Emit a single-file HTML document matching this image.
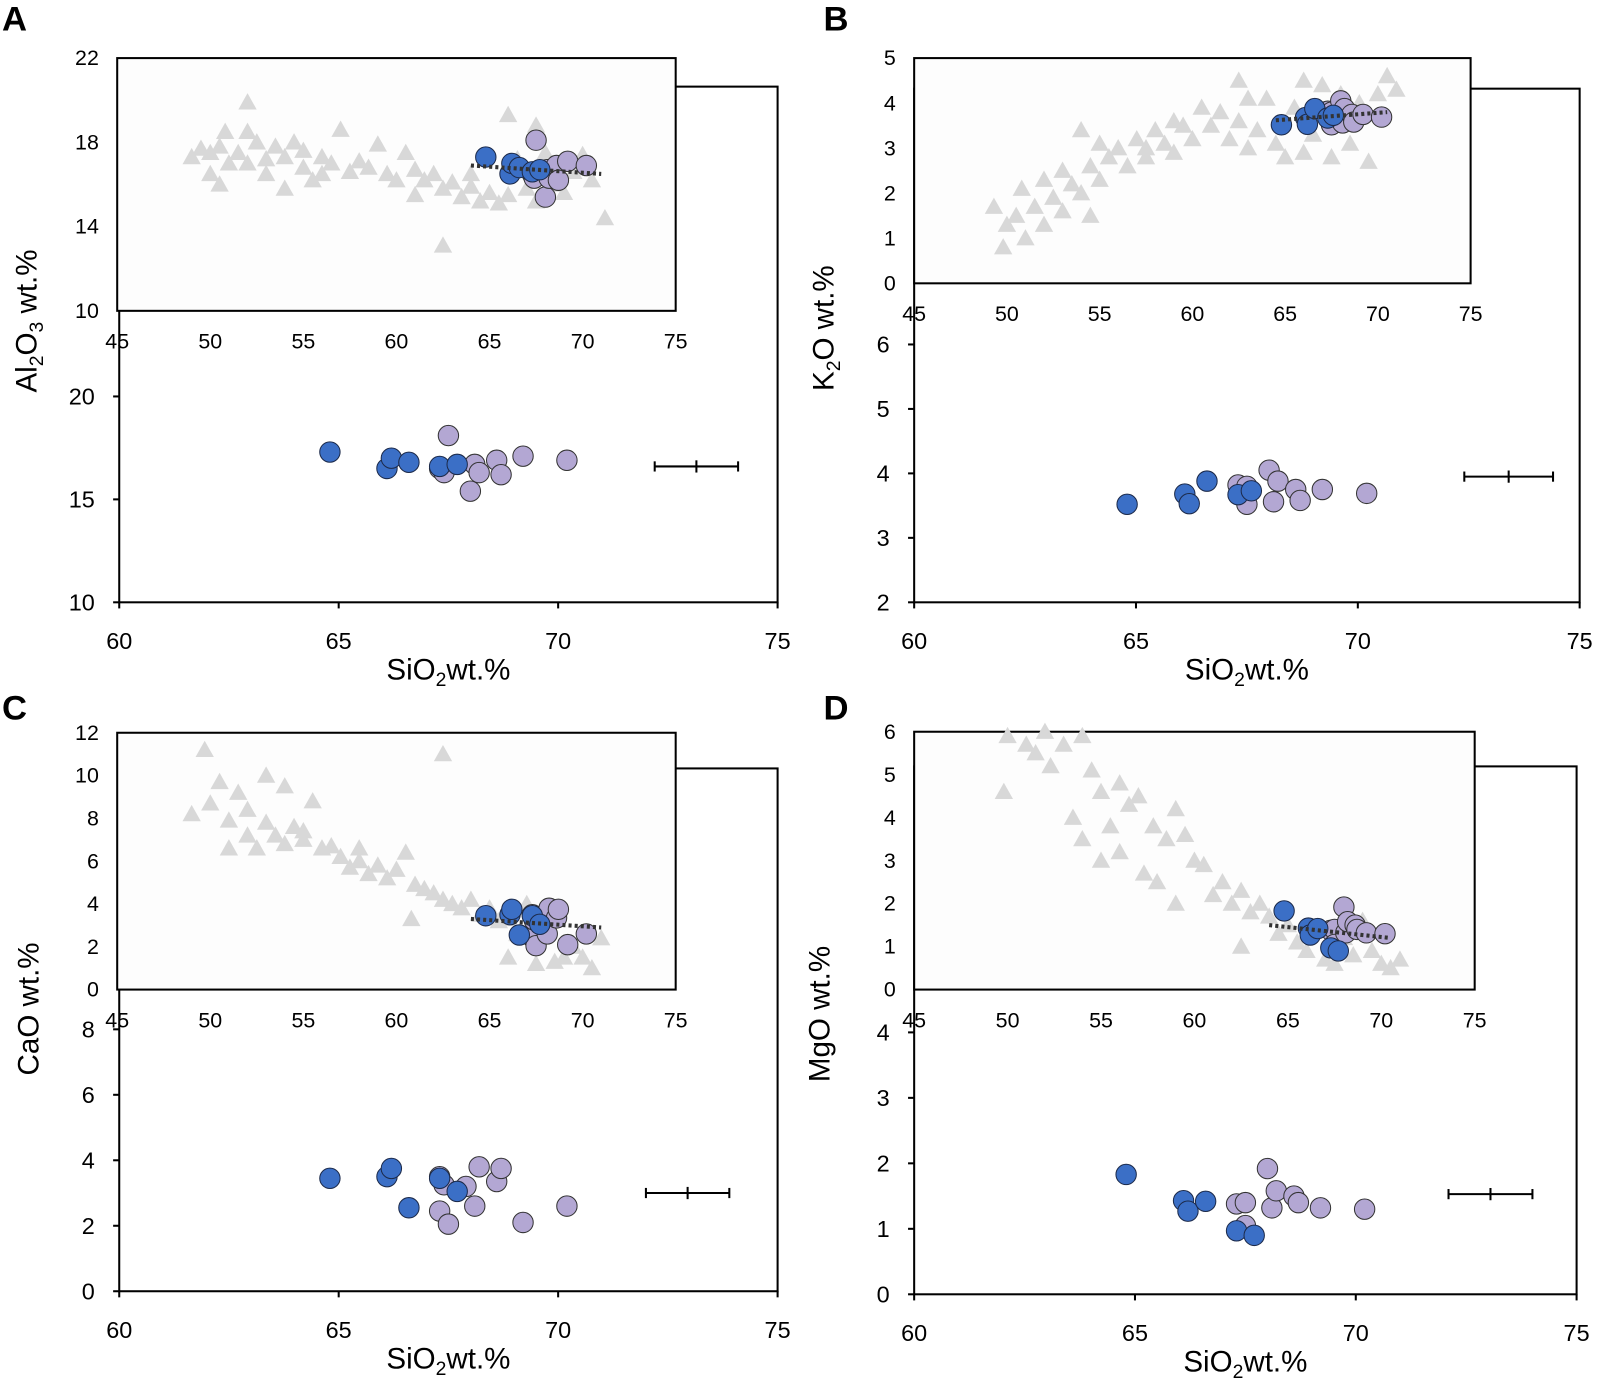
<!DOCTYPE html>
<html><head><meta charset="utf-8"><style>
html,body{margin:0;padding:0;background:#fff;}
svg{display:block;font-family:"Liberation Sans",Arial,sans-serif;}
</style></head><body>
<svg id="fig" width="1598" height="1385" viewBox="0 0 1568 1359" preserveAspectRatio="none" xmlns="http://www.w3.org/2000/svg"></svg>
<script>
// ---------- DATA ----------
// Panel A: Al2O3 vs SiO2
const aBlueX=[64.8,66.1,66.2,66.6,67.3,67.7];
const aBlueY=[17.3,16.5,17.0,16.8,16.6,16.7];
const aPurpX=[67.3,67.4,67.5,68.0,68.1,68.2,68.6,68.7,69.2,70.2];
const aPurpY=[16.5,16.3,18.1,15.4,16.7,16.3,16.9,16.2,17.1,16.9];
const aErr=[72.2,74.1,16.6];
const aTriX=[49,49.5,50,50,50.5,50.5,51,51.5,52,52,52,52.5,53,53,53.5,54,54,54.5,55,55,55.5,56,56,56.5,57,57.5,58,58.5,59,59.5,60,60.5,61,61,61.5,62,62.5,62.5,63,63.5,64,64,64.5,65,65.5,66,66,66.5,67,67.5,67.5,68,68.5,69,69.5,70,70.5,71.2,50.8];
const aTriY=[17.3,17.7,16.5,17.5,16,17.8,17,17.5,19.9,18.5,17,18,17.2,16.5,17.8,15.8,17.3,18,16.8,17.6,16.2,17.3,16.5,17,18.6,16.6,17.1,16.8,17.9,16.5,16.2,17.5,16.7,15.5,16.2,16.5,13.1,15.8,16.1,15.4,15.9,16.5,15.2,15.6,15.1,19.3,15.5,17.2,15.8,18.8,15.2,17.5,16,15.6,16.6,17.4,16.2,14.4,18.5];
const aTrend=[64,16.9,71,16.5];
// Panel B: K2O
const bBlueX=[64.8,66.1,66.2,66.6,67.3,67.6];
const bBlueY=[3.52,3.68,3.53,3.88,3.67,3.73];
const bPurpX=[67.3,67.5,67.5,68.0,68.1,68.2,68.6,68.7,69.2,70.2];
const bPurpY=[3.82,3.52,3.80,4.05,3.56,3.88,3.75,3.58,3.75,3.69];
const bErr=[72.4,74.4,3.95];
const bTriX=[49.3,49.8,50,50.5,50.8,51,51.5,52,52,52.5,53,53,53.5,54,54,54.5,54.5,55,55,55.5,56,56.5,57,57.5,58,58.5,59,59,59.5,60,60.5,61,61.5,62,62.5,62.5,63,63.5,64,64.5,65,65.5,66,66,66.5,67,67.5,68,68.5,69,69.5,70,70.5,71,63,57.5];
const bTriY=[1.7,0.8,1.3,1.5,2.1,1.0,1.7,1.3,2.3,1.9,2.5,1.6,2.2,3.4,2.0,1.5,2.6,3.1,2.3,2.8,3.0,2.6,3.2,3.0,3.4,3.1,3.6,2.9,3.5,3.2,3.9,3.5,3.8,3.2,4.5,3.6,4.1,3.4,4.1,3.1,2.8,3.9,4.5,2.9,3.3,4.4,2.8,4.2,3.1,4.0,2.7,4.2,4.6,4.3,3.0,2.8];
const bTrend=[64.5,3.62,70.5,3.8];
// Panel C: CaO
const cBlueX=[64.8,66.1,66.2,66.6,67.3,67.7];
const cBlueY=[3.45,3.5,3.75,2.55,3.45,3.05];
const cPurpX=[67.3,67.3,67.4,67.5,67.9,68.1,68.2,68.6,68.7,69.2,70.2];
const cPurpY=[3.5,2.45,3.25,2.05,3.2,2.6,3.8,3.35,3.75,2.1,2.6];
const cErr=[72.0,73.9,3.0];
const cTriX=[49,49.7,50,50.5,51,51,51.5,52,52,52.5,53,53,53.5,54,54,54.5,55,55.5,56,56.5,57,57.5,58,58.5,59,59.5,60,60.5,60.8,61,61.5,62,62.5,62.5,63,63.5,64,64.5,65,65.5,66,66,66.5,67,67.5,68,68.5,69,69.5,70,70.5,71,58,55];
const cTriY=[8.2,11.2,8.7,9.7,7.9,6.6,9.2,8.4,7.2,6.6,10.0,7.8,7.2,9.5,6.8,7.6,7.0,8.8,6.6,6.7,6.2,5.7,6.0,5.4,5.8,5.2,5.6,6.4,3.3,4.9,4.7,4.5,11.0,4.2,4.0,3.8,4.2,3.5,3.8,3.2,1.5,3.3,2.6,4.0,1.2,3.0,1.3,1.5,2.0,1.5,1.0,2.4,6.6,7.4];
const cTrend=[64,3.3,71,2.9];
// Panel D: MgO
const dBlueX=[64.8,66.1,66.2,66.6,67.3,67.7];
const dBlueY=[1.83,1.43,1.27,1.42,0.97,0.9];
const dPurpX=[67.3,67.5,67.5,68.0,68.1,68.2,68.6,68.7,69.2,70.2];
const dPurpY=[1.38,1.4,1.05,1.92,1.32,1.58,1.5,1.4,1.32,1.3];
const dErr=[72.1,74.0,1.53];
const dTriX=[49.8,50,51,51.5,52,52.3,53,53.5,54,54,54.5,55,55,55.5,56,56.5,57,57.3,57.8,58.5,59,59,59.5,60,60.5,61,61.5,62,62.5,62.5,63,63.5,64,64.5,65,65.5,66,66.5,67,67.5,68,68.5,69,69.5,70,70.5,71,58,56];
const dTriY=[4.6,5.9,5.7,5.5,6.0,5.2,5.7,4.0,5.9,3.5,5.1,3.0,4.6,3.8,4.8,4.3,4.5,2.7,3.8,3.5,4.2,2.0,3.6,3.0,2.9,2.2,2.5,2.0,1.0,2.3,1.8,2.0,1.7,1.3,1.5,1.1,0.9,1.4,0.7,0.6,1.2,0.8,1.6,0.9,0.6,0.5,0.7,2.5,3.2];
const dTrend=[64,1.5,70.5,1.2];
// tick labels
const mainXTicks=[60,65,70,75];
const insetXTicks=[45,50,55,60,65,70,75];
const aMainYTicks=[10,15,20];
const aInsetYTicks=[10,14,18,22];
const bMainYTicks=[2,3,4,5,6];
const bInsetYTicks=[0,1,2,3,4,5];
const cMainYTicks=[0,2,4,6,8];
const cInsetYTicks=[0,2,4,6,8,10,12];
const dMainYTicks=[0,1,2,3,4];
const dInsetYTicks=[0,1,2,3,4,5,6];

// ---------- DRAW ----------
const NS="http://www.w3.org/2000/svg";
const svg=document.getElementById('fig');
function el(tag,attrs,parent,text){const e=document.createElementNS(NS,tag);for(const k in attrs)e.setAttribute(k,attrs[k]);if(text!==undefined)e.textContent=text;(parent||svg).appendChild(e);return e;}
function lin(d0,d1,r0,r1){return v=>r0+(v-d0)*(r1-r0)/(d1-d0);}

function panel(p){
  const g=el('g',{});
  
  
  const mx=lin(60,75,p.m.x0,p.m.x1), my=lin(p.m.ymin,p.m.ymax,p.m.y0,p.m.y1);
  const box=el('rect',{x:p.m.x0,y:p.m.top,width:p.m.x1-p.m.x0,height:p.m.y0-p.m.top,fill:'#fff',stroke:'#000','stroke-width':2},g);
  
  
  p.mainYT.forEach(v=>{
    el('line',{x1:p.m.x0-6,x2:p.m.x0,y1:my(v),y2:my(v),stroke:'#000','stroke-width':2},g);
    const t=el('text',{x:p.m.x0-24,y:my(v)+8,'text-anchor':'end','font-size':23},g,v);
    
    
  });
  mainXTicks.forEach(v=>{
    el('line',{x1:mx(v),x2:mx(v),y1:p.m.y0,y2:p.m.y0+6,stroke:'#000','stroke-width':2},g);
    const t=el('text',{x:mx(v),y:p.m.y0+46,'text-anchor':'middle','font-size':23},g,v);
    
    
  });
  const ey=my(p.err[2]);
  const eb=el('g',{},g);
  
  
  el('line',{x1:mx(p.err[0]),x2:mx(p.err[1]),y1:ey,y2:ey,stroke:'#000','stroke-width':2},eb);
  [p.err[0],p.err[1]].forEach(v=>el('line',{x1:mx(v),x2:mx(v),y1:ey-5,y2:ey+5,stroke:'#000','stroke-width':2},eb));
  const cx=(mx(p.err[0])+mx(p.err[1]))/2;
  el('line',{x1:cx,x2:cx,y1:ey-6,y2:ey+6,stroke:'#000','stroke-width':2},eb);
  p.px.forEach((x,i)=>{const c=el('circle',{cx:mx(x),cy:my(p.py[i]),r:10,fill:'#b3a7d3',stroke:'#333','stroke-width':1},g);
    
    });
  p.bx.forEach((x,i)=>{const c=el('circle',{cx:mx(x),cy:my(p.by[i]),r:10,fill:'#3b6fc6',stroke:'#1c2a4a','stroke-width':1},g);
    
    });
  const ix=lin(45,75,p.i.x0,p.i.x1), iy=lin(p.i.ymin,p.i.ymax,p.i.y0,p.i.y1);
  const ib=el('rect',{x:p.i.x0,y:p.i.y1,width:p.i.x1-p.i.x0,height:p.i.y0-p.i.y1,fill:'#fdfdfd',stroke:'#000','stroke-width':2},g);
  
  
  p.insetYT.forEach(v=>{
    const t=el('text',{x:p.i.x0-18,y:iy(v)+7,'text-anchor':'end','font-size':21},g,v);
    
    
  });
  insetXTicks.forEach(v=>{
    const t=el('text',{x:ix(v),y:p.i.y0+37,'text-anchor':'middle','font-size':21},g,v);
    
    
  });
  p.tx.forEach((x,i)=>{const X=ix(x),Y=iy(p.ty[i]);
    const t=el('polygon',{points:`${X},${Y-9} ${X-9},${Y+7} ${X+9},${Y+7}`,fill:'#d8d8d8'},g);
    
    });
  p.px.forEach((x,i)=>{const c=el('circle',{cx:ix(x),cy:iy(p.py[i]),r:10,fill:'#b3a7d3',stroke:'#333','stroke-width':1},g);
    
    });
  p.bx.forEach((x,i)=>{const c=el('circle',{cx:ix(x),cy:iy(p.by[i]),r:10,fill:'#3b6fc6',stroke:'#1c2a4a','stroke-width':1},g);
    
    });
  const tl=el('line',{x1:ix(p.trend[0]),y1:iy(p.trend[1]),x2:ix(p.trend[2]),y2:iy(p.trend[3]),stroke:'#333','stroke-width':4,'stroke-dasharray':'3 3'},g);
  
  
  const xt=el('text',{x:(p.m.x0+p.m.x1)/2,y:p.m.y0+76,'text-anchor':'middle','font-size':29},g);
  
  
  el('tspan',{},xt,'SiO');el('tspan',{'font-size':19,dy:6},xt,'2');el('tspan',{dy:-6},xt,'wt.%');
  const yt=el('text',{transform:`translate(${p.yt[0]},${p.yt[1]}) rotate(-90)`,'text-anchor':'middle','font-size':29},g);
  
  
  p.ytitle.forEach(s=>{ if(s[1]) el('tspan',{'font-size':19,dy:6},yt,s[0]); else el('tspan',{dy:s[2]||0},yt,s[0]); });
  const L=el('text',{x:p.lab[0],y:p.lab[1],'font-size':34,'font-weight':'bold'},g,p.id);
  
  
}

panel({id:'A',m:{x0:117,x1:763,top:85,y0:591,y1:389,ymin:10,ymax:20},i:{x0:115,x1:663,y0:305,y1:57,ymin:10,ymax:22},
  mainYT:aMainYTicks,insetYT:aInsetYTicks,bx:aBlueX,by:aBlueY,px:aPurpX,py:aPurpY,err:aErr,tx:aTriX,ty:aTriY,trend:aTrend,
  yt:[36,315],ytitle:[['Al'],['2',1],['O',0,-6],['3',1],[' wt.%',0,-6]],lab:[2,30]});
panel({id:'B',m:{x0:897,x1:1550,top:87,y0:591,y1:338,ymin:2,ymax:6},i:{x0:897,x1:1443,y0:278,y1:57,ymin:0,ymax:5},
  mainYT:bMainYTicks,insetYT:bInsetYTicks,bx:bBlueX,by:bBlueY,px:bPurpX,py:bPurpY,err:bErr,tx:bTriX,ty:bTriY,trend:bTrend,
  yt:[818,322],ytitle:[['K'],['2',1],['O wt.%',0,-6]],lab:[808,30]});
panel({id:'C',m:{x0:117,x1:763,top:754,y0:1267,y1:1010,ymin:0,ymax:8},i:{x0:115,x1:663,y0:971,y1:719,ymin:0,ymax:12},
  mainYT:cMainYTicks,insetYT:cInsetYTicks,bx:cBlueX,by:cBlueY,px:cPurpX,py:cPurpY,err:cErr,tx:cTriX,ty:cTriY,trend:cTrend,
  yt:[38,990],ytitle:[['CaO wt.%']],lab:[2,706]});
panel({id:'D',m:{x0:897,x1:1547,top:752,y0:1270,y1:1013,ymin:0,ymax:4},i:{x0:897,x1:1447,y0:971,y1:718,ymin:0,ymax:6},
  mainYT:dMainYTicks,insetYT:dInsetYTicks,bx:dBlueX,by:dBlueY,px:dPurpX,py:dPurpY,err:dErr,tx:dTriX,ty:dTriY,trend:dTrend,
  yt:[814,995],ytitle:[['MgO wt.%']],lab:[808,706]});
</script>
</body></html>
